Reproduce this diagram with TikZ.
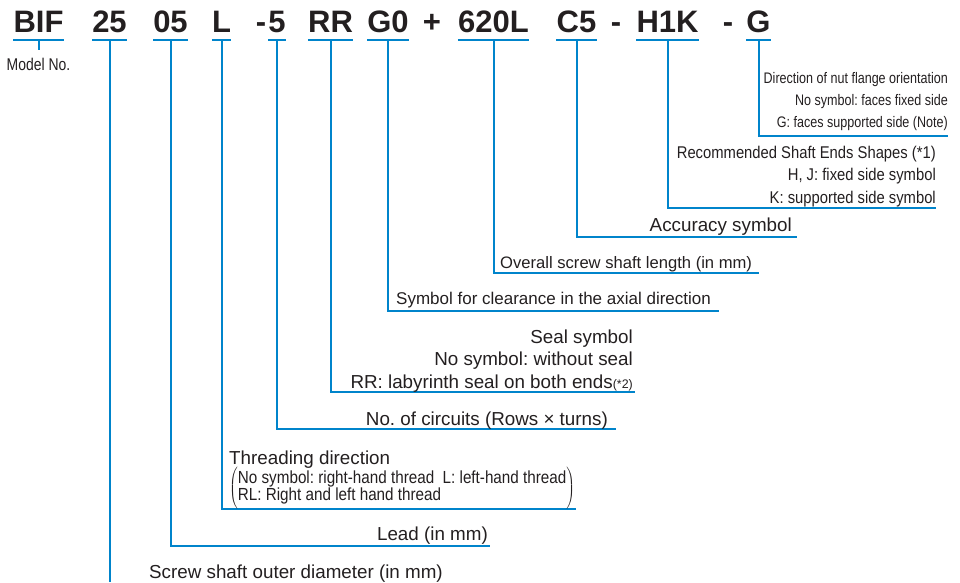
\documentclass[tikz,border=0pt]{standalone}
\usepackage{fontspec}
\setmainfont{Liberation Sans}
\newfontfamily\narrowA[FakeStretch=0.82]{Liberation Sans}
\newfontfamily\narrowB[FakeStretch=0.87]{Liberation Sans}
\frenchspacing

\definecolor{leadblue}{RGB}{0,132,203}
\definecolor{inkgray}{RGB}{35,31,32}

\tikzset{
  code/.style={inner sep=0pt, text depth=8pt, anchor=base, text=inkgray,
    font=\bfseries\fontsize{31}{31}\selectfont},
  uline/.style={draw=leadblue, line width=2pt},
  lead/.style={draw=leadblue, line width=2pt},
  txt/.style={inner sep=0pt, text=inkgray,
    font=\fontsize{18.8}{22.5}\selectfont}
}

\begin{document}
\begin{tikzpicture}[x=1pt,y=-1pt]
\useasboundingbox (0,0) rectangle (960,582);

% Code
\node[code] (cBIF) at (38.5,32) {BIF};
\node[code] (c25) at (109.5,32) {25};
\node[code] (c05) at (170.5,32) {05};
\node[code] (cL) at (221.5,32) {L};
\node[code] (dashA) at (261,32) {-};
\node[code] (c5) at (277,32) {5};
\node[code] (cRR) at (330.5,32) {RR};
\node[code] (cG0) at (388,32) {G0};
\node[code] (plus) at (432,32) {+};
\node[code] (c620L) at (493.5,32) {620L};
\node[code] (cC5) at (576.5,32) {C5};
\node[code] (dashB) at (616,32) {-};
\node[code] (cH1K) at (667.5,32) {H1K};
\node[code] (dashC) at (728,32) {-};
\node[code] (cG) at (758.5,32) {G};

\foreach \n in {cBIF,c25,c05,cL,c5,cRR,cG0,c620L,cC5,cH1K,cG}
  \draw[uline] (\n.south west) -- (\n.south east);

% Ends of the leads
\coordinate (mstem) at (38.5,50);
\coordinate (eG) at (948,136);
\coordinate (eH1K) at (936,208);
\coordinate (eC5) at (797,237);
\coordinate (e620L) at (759,273);
\coordinate (eG0) at (719,311);
\coordinate (eRR) at (635,392);
\coordinate (e5) at (616,429);
\coordinate (eL) at (576,509);
\coordinate (e05) at (490,546);
\coordinate (e25) at (109.5,582);

\draw[lead] (cBIF.south) -- (mstem);
\draw[lead] (cG.south) |- (eG);
\draw[lead] (cH1K.south) |- (eH1K);
\draw[lead] (cC5.south) |- (eC5);
\draw[lead] (c620L.south) |- (e620L);
\draw[lead] (cG0.south) |- (eG0);
\draw[lead] (cRR.south) |- (eRR);
\draw[lead] (c5.south) |- (e5);
\draw[lead] (cL.south) |- (eL);
\draw[lead] (c05.south) |- (e05);
\draw[lead] (c25.south) -- (e25);

% Labels
\node[txt, anchor=base, font=\narrowA\fontsize{17}{17}\selectfont] (modelno)
  at (38.5,70) {Model No.};

\node[txt, anchor=base east, align=right,
  font=\narrowA\fontsize{15.3}{22}\selectfont] (nutdir)
  at (948,127)
  {Direction of nut flange orientation\\
   No symbol: faces fixed side\\
   G: faces supported side (Note)};

\node[txt, anchor=base east, align=right,
  font=\narrowB\fontsize{17}{22.5}\selectfont] (shaftends)
  at (936,203)
  {Recommended Shaft Ends Shapes (*1)\\
   H, J: fixed side symbol\\
   K: supported side symbol};

\node[txt, anchor=base east] (accuracy) at (792,231) {Accuracy symbol};

\node[txt, anchor=base west, font=\fontsize{16.6}{20}\selectfont] (length)
  at (500,268) {Overall screw shaft length (in mm)};

\node[txt, anchor=base west, font=\fontsize{17}{20}\selectfont] (clearance)
  at (396,304.5) {Symbol for clearance in the axial direction};

\node[txt, anchor=base east, align=right] (seal)
  at (633,388)
  {Seal symbol\\
   No symbol: without seal\\
   RR: labyrinth seal on both ends{\fontsize{12.4}{12.4}\selectfont(*2)}};

\node[txt, anchor=base east] (circuits) at (608,425) {No. of circuits (Rows × turns)};

\node[txt, anchor=base west] (threading) at (229,464) {Threading direction};

\node[txt, anchor=west, font=\narrowB\fontsize{17.5}{15}\selectfont] (threadnote)
  at (229,488)
  {\delimitershortfall=-4pt
   $\left(\begin{tabular}{@{}l@{}}
     No symbol: right-hand thread\ \ L: left-hand thread\\
     RL: Right and left hand thread
   \end{tabular}\right)$};

\node[txt, anchor=base east] (leadmm) at (488,540) {Lead (in mm)};

\node[txt, anchor=base west] (diameter) at (149,578) {Screw shaft outer diameter (in mm)};

\end{tikzpicture}
\end{document}
